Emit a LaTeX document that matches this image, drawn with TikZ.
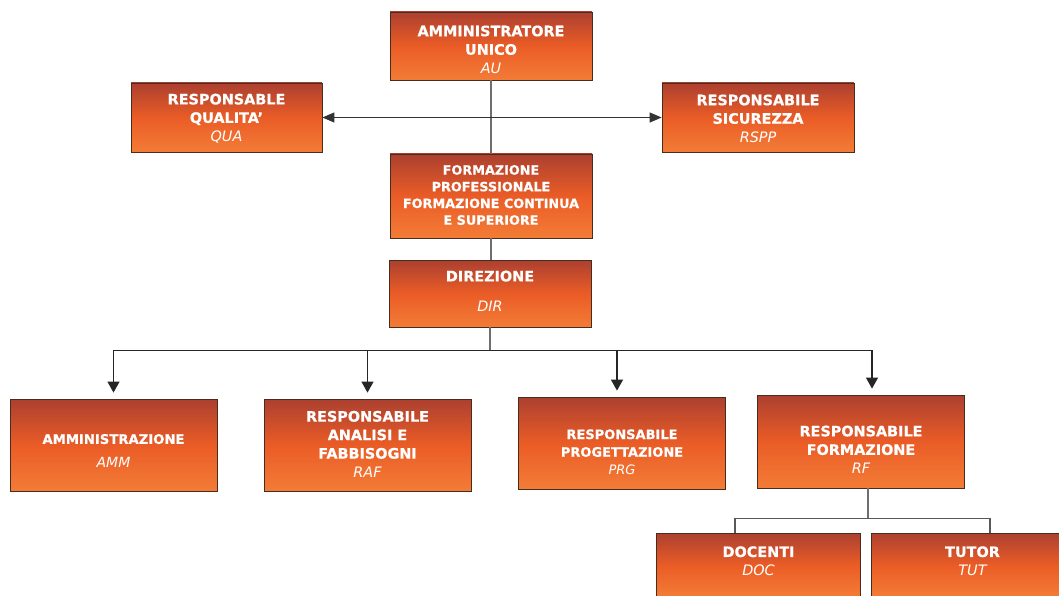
\documentclass[tikz,border=0pt]{standalone}
\usepackage{fontspec}
\setmainfont{DejaVu Sans}[BoldFeatures={FakeBold=0.6}]
\usetikzlibrary{arrows.meta}

\definecolor{rossoalto}{RGB}{172,64,48}
\definecolor{arancione}{RGB}{234,92,38}
\definecolor{arancio}{RGB}{243,124,54}
\definecolor{bordo}{RGB}{70,45,30}
\definecolor{grigiolinea}{RGB}{110,110,110}

\newcommand{\sigla}[1]{{\mdseries\itshape #1}}

\tikzset{
  ufficio/.style args={#1x#2}{draw=bordo, line width=0.8pt, top color=rossoalto,
    bottom color=arancio, middle color=arancione, minimum width=#1pt,
    minimum height=#2pt, inner sep=0pt},
  testo/.style={text=white, align=center, font=\fontsize{14.4}{18.5}\selectfont\bfseries},
  testopiccolo/.style={testo, font=\fontsize{12.8}{16.7}\selectfont\bfseries},
  collegamento/.style={draw=grigiolinea, line width=1.6pt},
  sottile/.style={draw=black!65, line width=1.3pt},
  freccia/.style={draw=black!85, line width=1.2pt, -{Triangle[width=12pt,length=11pt]}, shorten >=6pt},
  doppia/.style={draw=black!80, line width=1.1pt, {Triangle[width=10pt,length=12pt]}-{Triangle[width=10pt,length=12pt]}},
}

\begin{document}
\begin{tikzpicture}[x=1pt,y=-1pt]
  \useasboundingbox (0,0) rectangle (1059,596);
  \clip (0,0) rectangle (1059,596);

  % Vertice e staff
  \node[ufficio=202x68, label={[testo,yshift=-3.5pt]center:{AMMINISTRATORE\\UNICO\\\sigla{AU}}}] (au) at (491,46) {};
  \node[ufficio=191x69, label={[testo,yshift=-1pt]center:{RESPONSABLE\\QUALITA'\\\sigla{QUA}}}] (qua) at (226.5,117.5) {};
  \node[ufficio=192x69, label={[testo,yshift=-1pt]center:{RESPONSABILE\\SICUREZZA\\\sigla{RSPP}}}] (rspp) at (758,117.5) {};
  \node[ufficio=202x84, label={[testopiccolo,yshift=1pt]center:{FORMAZIONE\\PROFESSIONALE\\FORMAZIONE CONTINUA\\E SUPERIORE}}] (form) at (491,196) {};
  \node[ufficio=202x67, label={[testo,yshift=2.5pt]center:{DIREZIONE\\[11.5pt]\sigla{DIR}}}] (dir) at (490,293.5) {};

  % Funzioni
  \node[ufficio=207x92, label={[testo,yshift=-6pt,font=\fontsize{13.2}{16}\selectfont\bfseries]center:{AMMINISTRAZIONE\\[8pt]{\fontsize{14}{18}\selectfont\sigla{AMM}}}}] (amm) at (113.5,445) {};
  \node[ufficio=207x92, label={[testo,yshift=1pt]center:{RESPONSABILE\\ANALISI E\\FABBISOGNI\\\sigla{RAF}}}] (raf) at (367.5,445) {};
  \node[ufficio=207x92, label={[testo,yshift=-9pt,font=\fontsize{13}{17.7}\selectfont\bfseries]center:{RESPONSABILE\\PROGETTAZIONE\\\sigla{PRG}}}] (prg) at (622,443) {};
  \node[ufficio=207x93, label={[testo,yshift=-8pt]center:{RESPONSABILE\\FORMAZIONE\\\sigla{RF}}}] (rf) at (861,441.5) {};

  % Formazione
  \node[ufficio=204x64, label={[testo,yshift=4pt]center:{DOCENTI\\\sigla{DOC}}}] (doc) at (758.5,565) {};
  \node[ufficio=203x64, label={[testo,yshift=4pt]center:{TUTOR\\\sigla{TUT}}}] (tut) at (972.5,565) {};

  % Collegamenti
  \draw[collegamento] (au.south) -- (form.north);
  \draw[doppia] (qua.east) -- (rspp.west);
  \draw[collegamento] (form.south) -- (form.south |- dir.north);
  \coordinate (ramo) at ([yshift=-23pt]dir.south);
  \draw[collegamento] (dir.south) -- (ramo);
  \foreach \dest/\dx in {amm/0, raf/0, prg/-5, rf/11}
    \draw[freccia] (ramo) -| ([xshift=\dx pt]\dest.north);
  \coordinate (ramo2) at ([xshift=7pt,yshift=-30pt]rf.south);
  \draw[collegamento] ([xshift=7pt]rf.south) -- (ramo2);
  \draw[sottile] ([xshift=-23.5pt]doc.north) |- (ramo2) -| ([xshift=17.5pt]tut.north);
\end{tikzpicture}
\end{document}
